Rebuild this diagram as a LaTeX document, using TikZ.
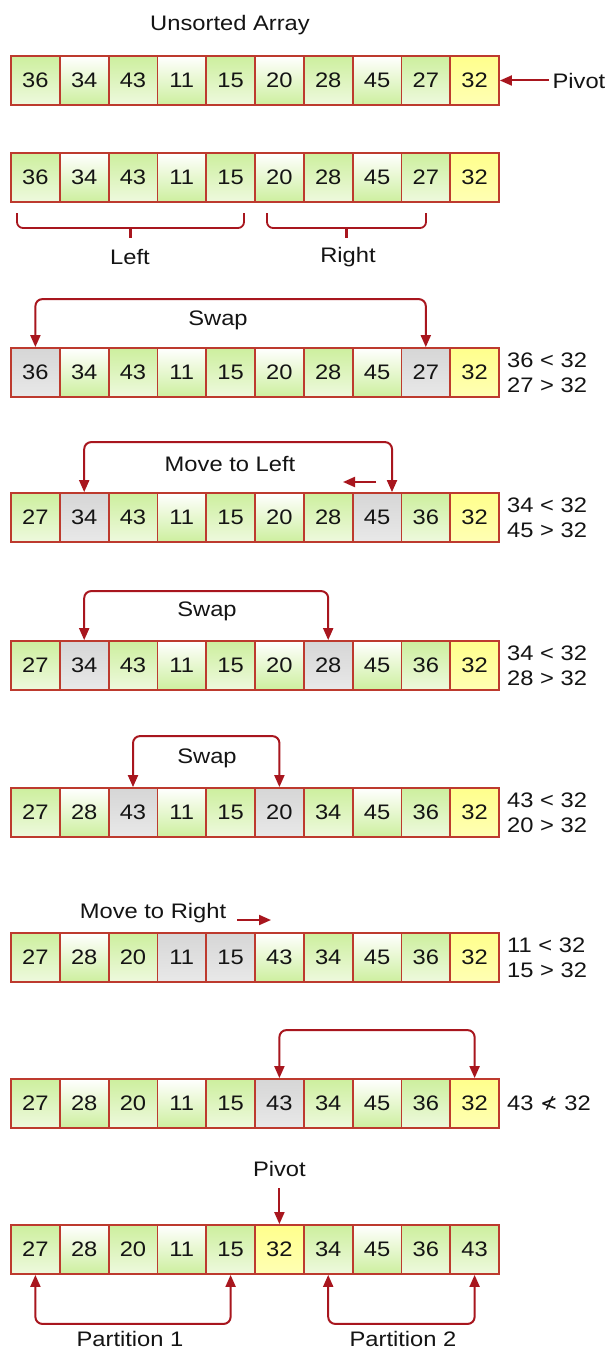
\documentclass[tikz,border=0pt]{standalone}
\usepackage{fontspec}
\setmainfont{Liberation Sans}[FakeStretch=1.13]
\newfontfamily\nltfont{DejaVu Sans}
\usetikzlibrary{arrows.meta,calc,positioning}
\definecolor{cellred}{HTML}{BD3A2E}
\definecolor{arrowred}{HTML}{A8161E}
\definecolor{leaf}{HTML}{CDEF9E}
\definecolor{leaflight}{HTML}{EEF9DE}
\definecolor{pivotyellow}{HTML}{FFFF8C}
\definecolor{pickgray}{HTML}{D6D6D6}
\definecolor{ink}{HTML}{141414}
\tikzset{>={Triangle[length=12pt,width=10pt]},
  every node/.style={font=\fontsize{21}{25}\selectfont,text=ink},
  cell/.style={draw=cellred,line width=1.8pt,minimum width=48.8pt,minimum height=49pt,inner sep=0pt},
  gc/.style={top color=leaf,bottom color=leaflight},
  wc/.style={top color=white,bottom color=leaf},
  yc/.style={top color=pivotyellow,bottom color=pivotyellow!65!white},
  hc/.style={top color=pickgray,bottom color=pickgray!55!white},
  link/.style={->,draw=arrowred,line width=2pt},
  swaplink/.style={<->,draw=arrowred,line width=2pt,rounded corners=7pt},
  brace/.style={draw=arrowred,line width=1.8pt,rounded corners=6pt},
  cmp/.style={align=left,inner sep=0pt,anchor=west}}
% one row of ten cells: name prefix, y of the centre, value/style list
\newcommand{\cellrow}[3]{\foreach \v/\t [count=\i] in {#3}
  \node[cell,\t] (#1c\i) at ({11+48.8*(\i-.5)},#2) {\v};}

\begin{document}
\begin{tikzpicture}[x=1pt,y=-1pt]
\path[fill=white,use as bounding box] (0,0) rectangle (608,1351);
% unsorted array
\node (title) at (230,25) {Unsorted Array};
\cellrow{r1}{80.5}{36/gc,34/wc,43/gc,11/wc,15/gc,20/wc,28/gc,45/wc,27/gc,32/yc}
\node[anchor=west] (pivlbl) at (549,80.5) {Pivot};
\draw[link] (pivlbl) -- (r1c10);
% left and right halves
\cellrow{r2}{177.5}{36/gc,34/wc,43/gc,11/wc,15/gc,20/wc,28/gc,45/wc,27/gc,32/yc}
\draw[brace] (17,213) -- (17,228) -- (244,228) -- (244,213);\draw[brace,line width=3pt] (130.5,228) -- (130.5,238);
\draw[brace] (267,213) -- (267,228) -- (426,228) -- (426,213);\draw[brace,line width=3pt] (346.5,228) -- (346.5,238);
\node (leftlbl) at (130,257) {Left};\node (rightlbl) at (348,257) {Right};
% first swap
\cellrow{r3}{372.5}{36/hc,34/wc,43/gc,11/wc,15/gc,20/wc,28/gc,45/wc,27/hc,32/yc}
\draw[swaplink] (r3c1.north) -- ++(0,-48) -| (r3c9.north);
\node (swap1) at (218,320) {Swap};
\node[cmp] (cmp1) at (507,372.5) {36 < 32\\27 > 32};
% move to left
\cellrow{r4}{517.5}{27/gc,34/hc,43/gc,11/wc,15/gc,20/wc,28/gc,45/hc,36/gc,32/yc}
\draw[swaplink] (r4c2.north) -- ++(0,-50) -| ([xshift=15pt]r4c8.north);
\node (move1) at (230,464) {Move to Left};
\coordinate (lfrom) at (376,482);\coordinate (lto) at (343,482);
\draw[link] (lfrom) -- (lto);
\node[cmp] (cmp2) at (507,517.5) {34 < 32\\45 > 32};
% second swap
\cellrow{r5}{665.5}{27/gc,34/hc,43/gc,11/wc,15/gc,20/wc,28/hc,45/wc,36/gc,32/yc}
\draw[swaplink] (r5c2.north) -- ++(0,-49) -| (r5c7.north);
\node (swap2) at (207,611) {Swap};
\node[cmp] (cmp3) at (507,665.5) {34 < 32\\28 > 32};
% third swap
\cellrow{r6}{812.5}{27/gc,28/wc,43/hc,11/wc,15/gc,20/hc,34/gc,45/wc,36/gc,32/yc}
\draw[swaplink] (r6c3.north) -- ++(0,-51) -| (r6c6.north);
\node (swap3) at (207,758) {Swap};
\node[cmp] (cmp4) at (507,812.5) {43 < 32\\20 > 32};
% move to right
\cellrow{r7}{957.5}{27/gc,28/wc,20/gc,11/hc,15/hc,43/wc,34/gc,45/wc,36/gc,32/yc}
\node (move2) at (153,913) {Move to Right};
\coordinate (rfrom) at (237,920);\coordinate (rto) at (271,920);
\draw[link] (rfrom) -- (rto);
\node[cmp] (cmp5) at (507,957.5) {11 < 32\\15 > 32};
% pivot into place
\cellrow{r8}{1103.5}{27/gc,28/wc,20/gc,11/wc,15/gc,43/hc,34/gc,45/wc,36/gc,32/yc}
\draw[swaplink] (r8c6.north) -- ++(0,-48) -| (r8c10.north);
\node[cmp] (cmp6) at (507,1103.5) {43 {\nltfont ≮} 32};
% partitions
\cellrow{r9}{1249.5}{27/gc,28/wc,20/gc,11/wc,15/gc,32/yc,34/gc,45/wc,36/gc,43/gc}
\node (pivlbl2) at (r9c6|-0,1169) {Pivot};
\draw[link,shorten <=8pt] (pivlbl2.south) -- (r9c6.north);
\draw[swaplink] (r9c1.south) -- ++(0,49) -| (r9c5.south);
\draw[swaplink] (r9c7.south) -- ++(0,49) -| (r9c10.south);
\node (part1) at (130,1339) {Partition 1};\node (part2) at (403,1339) {Partition 2};
\end{tikzpicture}
\end{document}
